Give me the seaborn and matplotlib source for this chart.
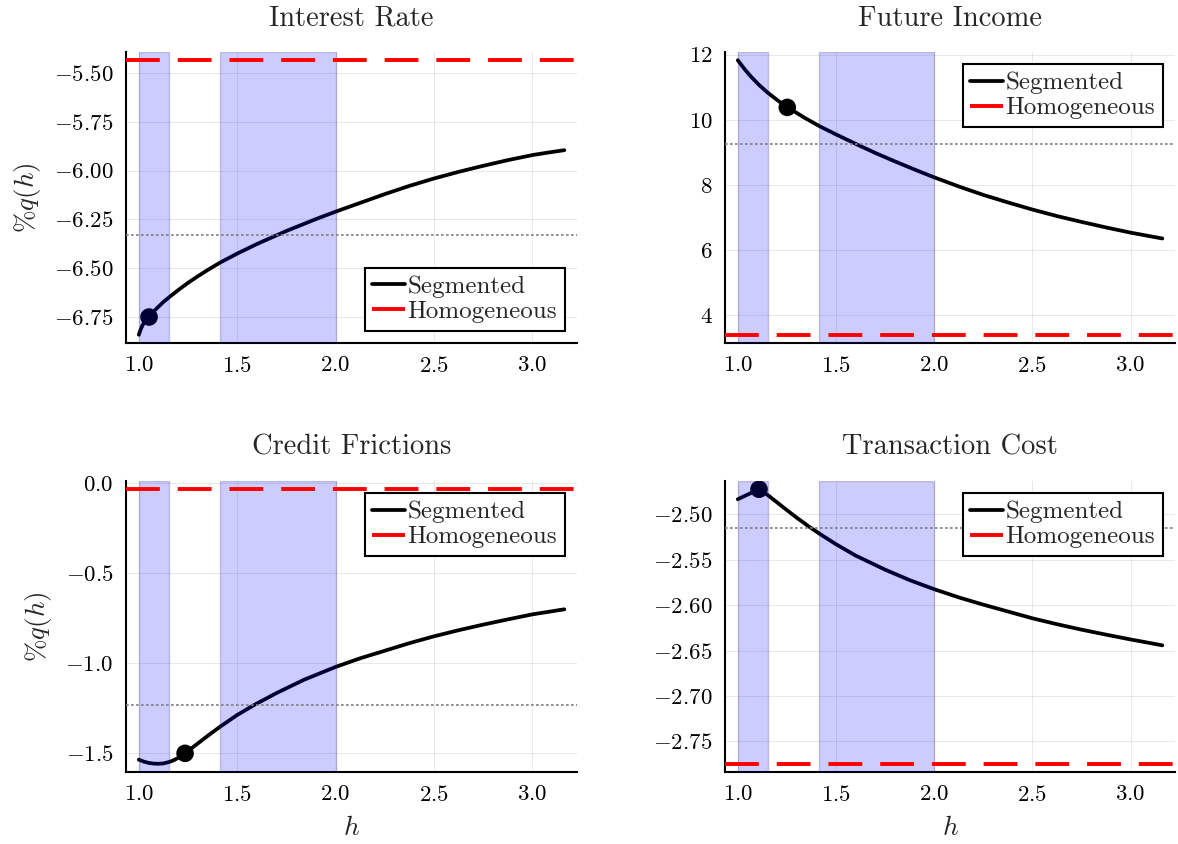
import numpy as np
import pandas as pd
import seaborn as sns
import matplotlib.pyplot as plt

# panel titles
titles = ["Interest Rate", "Future Income", "Credit Frictions", "Transaction Cost"]

# segmented curves
ir_h = [1.0, 1.01, 1.02, 1.035, 1.052, 1.075, 1.1, 1.125, 1.15, 1.2, 1.25, 1.3, 1.35, 1.413,
        1.5, 1.6, 1.75, 1.9, 2.0, 2.125, 2.25, 2.375, 2.5, 2.625, 2.75, 2.875, 3.0, 3.081, 3.162]
ir_q = [-6.841, -6.812, -6.79, -6.768, -6.750, -6.722, -6.697, -6.673, -6.652, -6.612, -6.575,
        -6.541, -6.509, -6.471, -6.425, -6.376, -6.309, -6.248, -6.21, -6.165, -6.12, -6.078,
        -6.04, -6.006, -5.975, -5.946, -5.92, -5.907, -5.895]

fi_h = [1.0, 1.034, 1.068, 1.11, 1.153, 1.2, 1.252, 1.3, 1.34, 1.417, 1.5, 1.6, 1.7, 1.8, 1.9,
        2.0, 2.125, 2.25, 2.375, 2.5, 2.625, 2.75, 2.875, 3.0, 3.081, 3.162]
fi_q = [11.83, 11.56, 11.32, 11.06, 10.83, 10.61, 10.38, 10.21, 10.06, 9.80, 9.55, 9.26, 8.98,
        8.72, 8.47, 8.23, 7.95, 7.69, 7.46, 7.24, 7.04, 6.86, 6.69, 6.53, 6.44, 6.35]

cf_h = [1.0, 1.025, 1.05, 1.075, 1.099, 1.125, 1.155, 1.18, 1.2, 1.235, 1.27, 1.3, 1.35, 1.413,
        1.5, 1.585, 1.7, 1.838, 2.0, 2.125, 2.25, 2.375, 2.5, 2.625, 2.75, 2.875, 3.0, 3.081, 3.162]
cf_q = [-1.535, -1.546, -1.553, -1.557, -1.558, -1.556, -1.548, -1.537, -1.525, -1.50, -1.47,
        -1.445, -1.403, -1.352, -1.287, -1.232, -1.165, -1.092, -1.02, -0.972, -0.93, -0.888,
        -0.85, -0.816, -0.785, -0.756, -0.728, -0.714, -0.70]

tc_h = [1.0, 1.108, 1.13, 1.156, 1.2, 1.25, 1.3, 1.36, 1.42, 1.5, 1.6, 1.75, 1.875, 2.0, 2.125,
        2.25, 2.375, 2.5, 2.625, 2.75, 2.875, 3.0, 3.081, 3.162]
tc_q = [-2.4835, -2.4725, -2.4755, -2.4795, -2.487, -2.4955, -2.5038, -2.5132, -2.522, -2.533,
        -2.5455, -2.561, -2.5725, -2.5825, -2.5915, -2.5995, -2.607, -2.6145, -2.621, -2.627,
        -2.6325, -2.6378, -2.641, -2.6443]

# highlighted points
dot_h = [1.052, 1.252, 1.235, 1.108]
dot_q = [-6.75, 10.38, -1.50, -2.4725]

# homogeneous model and the dotted reference level
homog = [-5.434, 3.39, -0.033, -2.7746]
ref_level = [-6.33, 9.25, -1.234, -2.5147]

# shaded h ranges
spans = [(1.0, 1.155), (1.414, 2.0)]

xticks = [1.0, 1.5, 2.0, 2.5, 3.0]
yticks = [
    [-6.75, -6.50, -6.25, -6.00, -5.75, -5.50],
    [4, 6, 8, 10, 12],
    [-1.5, -1.0, -0.5, 0.0],
    [-2.75, -2.70, -2.65, -2.60, -2.55, -2.50],
]
legend_loc = ["lower right", "upper right", "upper right", "upper right"]

curves = [(ir_h, ir_q), (fi_h, fi_q), (cf_h, cf_q), (tc_h, tc_q)]

sns.set_theme(style="white")
plt.rcParams["font.family"] = "serif"
plt.rcParams["font.serif"] = ["cmr10"]
plt.rcParams["mathtext.fontset"] = "cm"
plt.rcParams["axes.formatter.use_mathtext"] = True
plt.rcParams["axes.unicode_minus"] = True

fig = plt.figure(figsize=(11.78, 8.44), dpi=100)
positions = [
    [0.107, 0.5936, 0.3829, 0.3448],
    [0.6155, 0.5936, 0.382, 0.3448],
    [0.107, 0.0853, 0.3829, 0.3448],
    [0.6155, 0.0853, 0.382, 0.3448],
]

for i in range(4):
    ax = fig.add_axes(positions[i])
    hh, qq = curves[i]
    df = pd.DataFrame({"h": hh, "q": qq})

    sns.lineplot(data=df, x="h", y="q", ax=ax, color="black", linewidth=2.7,
                 label="Segmented", zorder=2)
    sns.scatterplot(x=[dot_h[i]], y=[dot_q[i]], ax=ax, color="black", s=160,
                    edgecolor="none", zorder=3, legend=False)
    for a, b in spans:
        ax.axvspan(a, b, facecolor=(0, 0, 1, 0.2), edgecolor=(0.1, 0.1, 0.45, 0.22),
                   linewidth=1, zorder=4)
    ax.axhline(homog[i], color="red", linewidth=2.8, linestyle=(0, (8.7, 4.6)),
               label="Homogeneous", zorder=5)
    ax.axhline(ref_level[i], color="gray", linewidth=1.2, linestyle=(0, (1.6, 1.4)),
               zorder=5)

    # limits like Plots.jl: 3% padding around data
    xlo, xhi = min(hh), max(hh)
    xr = xhi - xlo
    ax.set_xlim(xlo - 0.03 * xr, xhi + 0.03 * xr)
    allq = qq + [homog[i], dot_q[i]]
    ylo, yhi = min(allq), max(allq)
    yr = yhi - ylo
    ax.set_ylim(ylo - 0.03 * yr, yhi + 0.03 * yr)

    ax.set_xticks(xticks)
    ax.set_yticks(yticks[i])
    ax.grid(True, color="black", alpha=0.09, linewidth=0.7)
    ax.tick_params(direction="in", length=7, width=1.3, colors="black",
                   labelsize=16.5, pad=9)
    ax.tick_params(axis="x", pad=9)
    for side in ["top", "right"]:
        ax.spines[side].set_visible(False)
    for side in ["left", "bottom"]:
        ax.spines[side].set_color("black")
        ax.spines[side].set_linewidth(1.5)

    ax.set_title(titles[i], fontsize=20.5, pad=19)
    if i % 2 == 0:
        ax.set_ylabel(r"$\%q(h)$", fontsize=19.5, labelpad=8)
    else:
        ax.set_ylabel("")
    if i >= 2:
        ax.set_xlabel(r"$h$", fontsize=19.5, labelpad=8)
    else:
        ax.set_xlabel("")

    leg = ax.legend(loc=legend_loc[i], fontsize=18, frameon=True, fancybox=False,
                    framealpha=1, edgecolor="black", handlelength=1.3,
                    handletextpad=0.1, labelspacing=0.1, borderpad=0.3,
                    borderaxespad=0.5)
    leg.get_frame().set_linewidth(1.5)
    leg.set_zorder(10)

fig.savefig("out.png", dpi=100)
